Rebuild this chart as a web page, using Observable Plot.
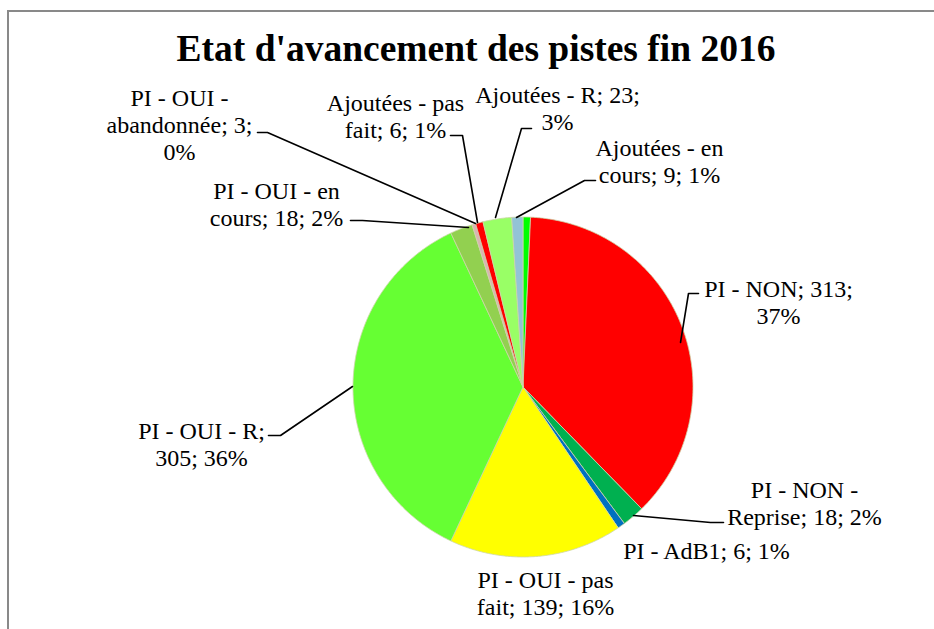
<!DOCTYPE html>
<html>
<head>
<meta charset="utf-8">
<script src="https://cdn.jsdelivr.net/npm/d3@7"></script>
<script src="https://cdn.jsdelivr.net/npm/@observablehq/plot@0.6"></script>
<style>
html, body { margin: 0; padding: 0; background: #fff; width: 934px; height: 629px; overflow: hidden; }
#wrap { position: relative; width: 934px; height: 629px; overflow: hidden; }
#frame { position: absolute; left: 7px; top: 10px; width: 1000px; height: 1000px; box-sizing: border-box;
  border-left: 2px solid #898989; border-top: 2px solid #898989; pointer-events: none; }
#title { position: relative; height: 80px; box-sizing: border-box; padding-top: 30px; padding-left: 18px;
  text-align: center; font: bold 37.5px/37px "Liberation Serif", "Times New Roman", serif; color: #000; white-space: nowrap; }
#chart svg { display: block; background: transparent; overflow: visible; }
</style>
</head>
<body>
<div id="wrap">
  <div id="frame"></div>
  <div id="title">Etat d'avancement des pistes fin 2016</div>
  <div id="chart"></div>
</div>
<script>
// ---- data ----
const categories = [
  "(sans étiquette)",
  "PI - NON",
  "PI - NON - Reprise",
  "PI - AdB1",
  "PI - OUI - pas fait",
  "PI - OUI - R",
  "PI - OUI - en cours",
  "PI - OUI - abandonnée",
  "Ajoutées - pas fait",
  "Ajoutées - R",
  "Ajoutées - en cours"
];
const values = [6, 313, 18, 6, 139, 305, 18, 3, 6, 23, 9];
const colors = ["#00FF00", "#FF0000", "#00B050", "#0070C0", "#FFFF00", "#66FF33",
                "#92D050", "#D9B3B3", "#FF0000", "#99FF66", "#93C3D6"];
const showLabel = [false, true, true, true, true, true, true, true, true, true, true];
// words per line for each data label
const labelWrap = [[], [4, 1], [4, 3], [5], [5, 3], [5, 2], [5, 3], [4, 2, 1], [3, 3], [4, 1], [3, 3]];

// ---- layout (page pixels) ----
const CX = 522.5, CY = 386.5, R = 170, SVG_TOP = 80, W = 934, H = 629 - SVG_TOP;
const LINE_H = 27;
const toX = px => (px - CX) / R;
const toY = py => (CY - py) / R;
const labelPos = [
  null, [778, 302], [804, 503], [706, 551], [545, 593], [201, 444],
  [276, 204], [179, 125], [395, 116], [557, 108], [659, 161]
];
const leaders = [
  null,
  [[698, 293], [688, 293], [680, 342]],
  [[723, 522], [710, 522], [633, 515]],
  null,
  null,
  [[268, 435], [280, 435], [352, 386]],
  [[350, 220], [362, 220], [468, 227]],
  [[257, 132], [267, 132], [475, 223]],
  [[450, 135], [462, 135], [477, 222]],
  [[531, 128], [521, 128], [495, 217]],
  [[595, 180], [584, 180], [516, 217]]
];

// ---- build ----
const rows = categories.map((c, i) => ({cat: c, value: values[i], i}));
const total = d3.sum(values);
const arcs = d3.pie().sort(null).value(d => d.value)(rows);

const slicePts = [];
arcs.forEach(a => {
  const cat = a.data.cat;
  const n = Math.max(2, Math.ceil((a.endAngle - a.startAngle) / (Math.PI / 360)));
  slicePts.push({cat, x: 0, y: 0});
  for (let k = 0; k <= n; k++) {
    const t = a.startAngle + (a.endAngle - a.startAngle) * k / n;
    slicePts.push({cat, x: Math.sin(t), y: Math.cos(t)});
  }
  slicePts.push({cat, x: 0, y: 0});
});

const labelLines = [];
rows.forEach((r, i) => {
  if (!showLabel[i]) return;
  const pct = Math.round(r.value / total * 100) + "%";
  const words = `${r.cat}; ${r.value}; ${pct}`.split(" ");
  const lines = [];
  let p = 0;
  for (const n of labelWrap[i]) { lines.push(words.slice(p, p + n).join(" ")); p += n; }
  const [px, py] = labelPos[i];
  lines.forEach((line, k) => {
    labelLines.push({i, x: toX(px), y: toY(py + (k - (lines.length - 1) / 2) * LINE_H), text: line});
  });
});

const leaderPts = [];
leaders.forEach((L, i) => {
  if (!L) return;
  L.forEach(([px, py]) => leaderPts.push({id: i, x: toX(px), y: toY(py)}));
});

const chart = Plot.plot({
  width: W,
  height: H,
  margin: 0,
  x: {domain: [toX(0), toX(W)], axis: null},
  y: {domain: [toY(SVG_TOP + H), toY(SVG_TOP)], axis: null},
  color: {domain: categories, range: colors},
  marks: [
    Plot.line(slicePts, {x: "x", y: "y", z: "cat", fill: "cat", stroke: "#cdd5a8", strokeWidth: 0.8, curve: "linear"}),
    Plot.line(leaderPts, {x: "x", y: "y", z: "id", stroke: "#000", strokeWidth: 1.6, curve: "linear"}),
    Plot.text(labelLines, {x: "x", y: "y", text: "text", fontSize: 24, fontFamily: "Liberation Serif",
      textAnchor: "middle", lineAnchor: "middle", fill: "#000"})
  ]
});
document.getElementById("chart").appendChild(chart);
</script>
</body>
</html>
